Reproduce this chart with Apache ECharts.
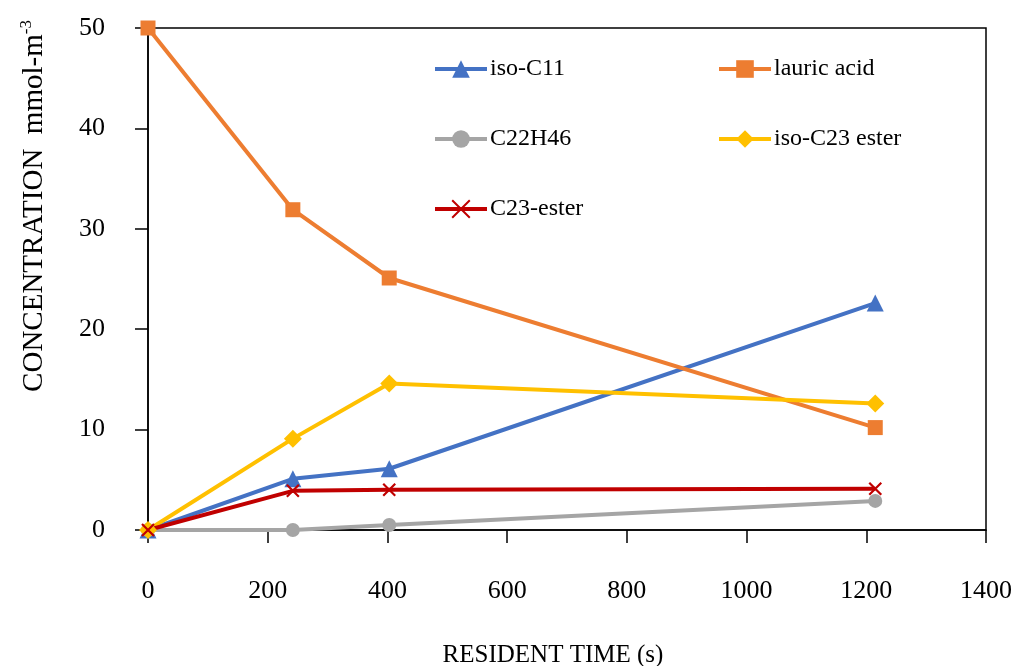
<!DOCTYPE html>
<html>
<head>
<meta charset="utf-8">
<script src="https://cdn.jsdelivr.net/npm/echarts@6/dist/echarts.min.js"></script>
<style>html,body{margin:0;padding:0;background:#fff}#c{width:1016px;height:666px}</style>
</head>
<body>
<div id="c"></div>
<script>
var times = [0, 242, 403, 1215];
var seriesNames = ['iso-C11', 'lauric acid', 'C22H46', 'iso-C23 ester', 'C23-ester'];
var isoC11 = [0, 5.1, 6.1, 22.6];
var lauricAcid = [50, 31.9, 25.1, 10.2];
var c22h46 = [0, 0, 0.5, 2.9];
var isoC23Ester = [0, 9.1, 14.6, 12.6];
var c23Ester = [0, 3.9, 4.0, 4.1];
var xTicks = [0, 200, 400, 600, 800, 1000, 1200, 1400];
var yTicks = [0, 10, 20, 30, 40, 50];

var FONT = '"Liberation Serif", "Times New Roman", serif';
function pts(v) { return times.map(function (t, i) { return [t, v[i]]; }); }

var colors = ['#4472C4', '#ED7D31', '#A5A5A5', '#FFC000', '#C00000'];
var symbols = ['triangle', 'rect', 'circle', 'diamond', 'path://M0 0L10 10M10 0L0 10'];
var sizes = [17, 15, 14, 18, 12];
var values = [isoC11, lauricAcid, c22h46, isoC23Ester, c23Ester];

var series = seriesNames.map(function (n, i) {
  var isX = i === 4;
  return {
    name: n, type: 'line', data: pts(values[i]),
    symbol: symbols[i], symbolSize: sizes[i],
    showAllSymbol: true,
    lineStyle: { color: colors[i], width: 4 },
    itemStyle: isX ? { color: colors[i], borderColor: colors[i], borderWidth: 2.2 } : { color: colors[i], borderWidth: 0 },
    emphasis: { disabled: true },
    animation: false
  };
});

var legendPos = [[433, 57], [717, 57], [433, 127], [717, 127], [433, 197]];
var legends = seriesNames.map(function (n, i) {
  return {
    data: [n], left: legendPos[i][0], top: legendPos[i][1], padding: 0,
    itemWidth: 52, itemHeight: 22, selectedMode: false,
    lineStyle: { width: 4 },
    textStyle: { fontFamily: FONT, fontSize: 24, color: '#000', padding: [0, 0, 0, -2] }
  };
});

var chart = echarts.init(document.getElementById('c'), null, { renderer: 'canvas' });
chart.setOption({
  backgroundColor: '#fff',
  animation: false,
  grid: { left: 148, right: 30, top: 28, bottom: 136, show: true, borderColor: '#000', borderWidth: 1.5, outerBoundsMode: 'none', containLabel: false },
  legend: legends,
  xAxis: {
    type: 'value', min: xTicks[0], max: xTicks[xTicks.length - 1], interval: 200,
    name: 'RESIDENT TIME (s)', nameLocation: 'middle', nameGap: 113,
    nameTextStyle: { fontFamily: FONT, fontSize: 25, color: '#000', padding: [0, 28, 0, 0] },
    axisLine: { show: true, lineStyle: { color: '#000', width: 1.5 } },
    axisTick: { show: true, length: 13, lineStyle: { color: '#000', width: 1.5 } },
    axisLabel: { fontFamily: FONT, fontSize: 26, color: '#000', margin: 48, formatter: function (v) { return String(v); } },
    splitLine: { show: false }
  },
  yAxis: {
    type: 'value', min: yTicks[0], max: yTicks[yTicks.length - 1], interval: 10,
    axisLine: { show: true, lineStyle: { color: '#000', width: 1.5 } },
    axisTick: { show: true, length: 13, lineStyle: { color: '#000', width: 1.5 } },
    axisLabel: { fontFamily: FONT, fontSize: 26, color: '#000', margin: 43 },
    splitLine: { show: false }
  },
  graphic: [{
    type: 'text', x: 34, y: 206, rotation: Math.PI / 2,
    style: {
      text: '{a|CONCENTRATION  mmol-m}{s|-3}',
      align: 'center', verticalAlign: 'middle',
      rich: {
        a: { fontFamily: FONT, fontSize: 29, fill: '#000', lineHeight: 32 },
        s: { fontFamily: FONT, fontSize: 17, fill: '#000', verticalAlign: 'top', lineHeight: 32 }
      }
    }
  }],
  series: series
});
</script>
</body>
</html>
